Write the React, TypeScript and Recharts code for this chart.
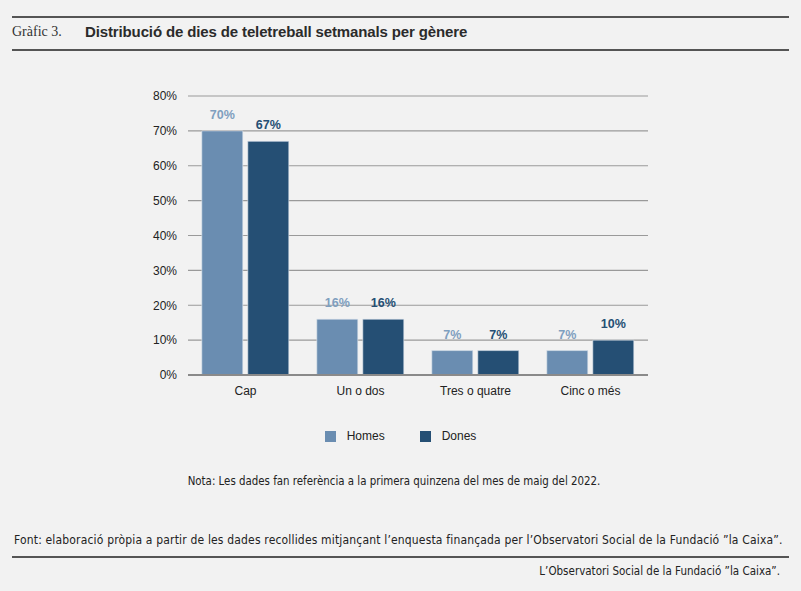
import { BarChart, Bar, XAxis, YAxis, CartesianGrid, LabelList, Legend } from 'recharts'

const categories = ['Cap', 'Un o dos', 'Tres o quatre', 'Cinc o més']
const homes = [70, 16, 7, 7]
const dones = [67, 16, 7, 10]
const yTicks = [0, 10, 20, 30, 40, 50, 60, 70, 80]

const HOMES_COLOR = '#6a8db1'
const DONES_COLOR = '#254f74'
const SANS = '"Liberation Sans", Arial, sans-serif'
const NARROW = '"Liberation Sans Narrow", "DejaVu Sans Condensed", "Liberation Sans", sans-serif'

const data = categories.map((c, i) => ({ name: c, Homes: homes[i], Dones: dones[i] }))

function GenderLegend() {
  const items = [
    { label: 'Homes', color: HOMES_COLOR },
    { label: 'Dones', color: DONES_COLOR },
  ]
  return (
    <div style={{ display: 'flex', justifyContent: 'center', gap: 35, fontFamily: SANS, fontSize: 12, color: '#222', height: 16 }}>
      {items.map((it) => (
        <div key={it.label} style={{ display: 'flex', alignItems: 'center' }}>
          <span style={{ width: 11, height: 11, background: it.color, marginRight: 11, display: 'inline-block' }} />
          <span>{it.label}</span>
        </div>
      ))}
    </div>
  )
}

const rule = (top: number) => (
  <div style={{ position: 'absolute', left: 12, width: 777, top, height: 2, background: '#555' }} />
)

export default function App() {
  return (
    <div style={{ position: 'absolute', left: 0, top: 0, width: 801, height: 591, background: '#f2f2f2', overflow: 'hidden' }}>
      {rule(16)}
      <div style={{ position: 'absolute', left: 12, top: 24, fontFamily: '"Liberation Serif", serif', fontSize: 14, color: '#333' }}>
        Gràfic 3.
      </div>
      <div style={{ position: 'absolute', left: 85, top: 23, fontFamily: SANS, fontWeight: 700, fontSize: 15, letterSpacing: -0.13, color: '#2b2b2b' }}>
        Distribució de dies de teletreball setmanals per gènere
      </div>
      {rule(49)}

      <div style={{ position: 'absolute', left: 0, top: 0 }}>
        <BarChart
          width={801}
          height={450}
          data={data}
          margin={{ top: 96, right: 153, left: 0, bottom: 0 }}
          barCategoryGap="12%"
          barGap={5}
        >
          <CartesianGrid vertical={false} stroke="#9a9a9a" strokeWidth={1.2} />
          <XAxis
            dataKey="name"
            axisLine={{ stroke: '#8a8a8a', strokeWidth: 2 }}
            tickLine={false}
            tick={{ fontFamily: SANS, fontSize: 12, fill: '#222' }}
            tickMargin={5}
            height={59}
          />
          <YAxis
            width={188}
            domain={[0, 80]}
            ticks={yTicks}
            tickFormatter={(v) => `${v}%`}
            axisLine={false}
            tickLine={false}
            tickMargin={5}
            tick={{ fontFamily: SANS, fontSize: 12, fill: '#222' }}
            interval={0}
          />
          <Legend verticalAlign="bottom" content={() => <GenderLegend />} wrapperStyle={{ left: 0, width: 801, top: 428 }} />
          <Bar dataKey="Homes" fill={HOMES_COLOR} stroke="#dfe6ee" strokeWidth={0.6} isAnimationActive={false}>
            <LabelList dataKey="Homes" position="top" offset={12} formatter={(v: number) => `${v}%`} fill="#7f9fbf" fontFamily={SANS} fontSize={12.5} fontWeight={600} />
          </Bar>
          <Bar dataKey="Dones" fill={DONES_COLOR} stroke="#dfe6ee" strokeWidth={0.6} isAnimationActive={false}>
            <LabelList dataKey="Dones" position="top" offset={12} formatter={(v: number) => `${v}%`} fill={DONES_COLOR} fontFamily={SANS} fontSize={12.5} fontWeight={700} />
          </Bar>
        </BarChart>
      </div>

      <div style={{ position: 'absolute', left: 0, width: 788, top: 474, textAlign: 'center', fontFamily: NARROW, fontSize: 11.4, color: '#222' }}>
        Nota: Les dades fan referència a la primera quinzena del mes de maig del 2022.
      </div>
      <div style={{ position: 'absolute', left: 14, top: 533, fontFamily: NARROW, fontSize: 12, letterSpacing: 0.17, color: '#222' }}>
        Font: elaboració pròpia a partir de les dades recollides mitjançant l’enquesta finançada per l’Observatori Social de la Fundació ”la Caixa”.
      </div>
      {rule(556)}
      <div style={{ position: 'absolute', right: 21, top: 564, fontFamily: NARROW, fontSize: 11.5, color: '#222' }}>
        L’Observatori Social de la Fundació ”la Caixa”.
      </div>
    </div>
  )
}
